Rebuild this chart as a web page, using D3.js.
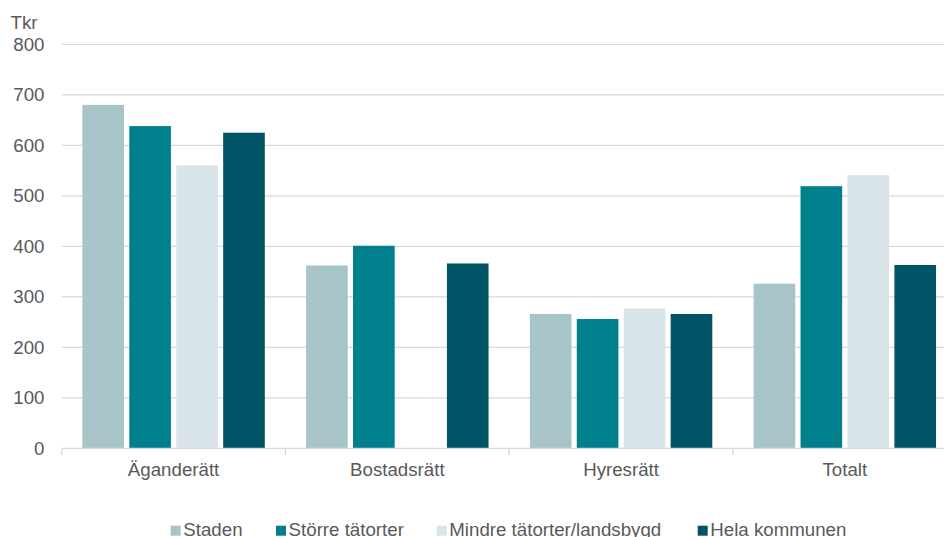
<!DOCTYPE html>
<html>
<head>
<meta charset="utf-8">
<script src="https://cdn.jsdelivr.net/npm/d3@7"></script>
<style>
  html, body { margin: 0; padding: 0; background: #fff; }
  svg { display: block; font-family: "Liberation Sans", Arial, sans-serif; }
</style>
</head>
<body>
<svg id="chart" width="944" height="537"></svg>
<script>
// Upplåtelseform per område (Tkr)
const categories = ["Äganderätt", "Bostadsrätt", "Hyresrätt", "Totalt"];
const seriesNames = ["Staden", "Större tätorter", "Mindre tätorter/landsbygd", "Hela kommunen"];
const staden = [680, 362, 266, 326];
const storreTatorter = [638, 401, 256, 519];
const mindreTatorter = [560, null, 277, 541];
const helaKommunen = [625, 366, 266, 363];
const yTicks = [0, 100, 200, 300, 400, 500, 600, 700, 800];
const colors = ["#A7C4C9", "#00808C", "#D9E4E9", "#015465"];

const seriesValues = [staden, storreTatorter, mindreTatorter, helaKommunen];

const svg = d3.select("#chart");
const textColor = "#595959";
const fontSize = "18.7px";

const x0 = d3.scaleBand().domain(categories).range([61.7, 956.7]).paddingInner(0).paddingOuter(0);
const x1 = d3.scaleBand().domain(seriesNames).range([0, x0.bandwidth()])
  .paddingInner(0.113).paddingOuter(0.44);
const y = d3.scaleLinear().domain([0, 800]).range([448.3, 44.3]);

// Gridlines
svg.append("g")
  .selectAll("line")
  .data(yTicks.filter(t => t > 0))
  .join("line")
  .attr("x1", 61.7).attr("x2", 956.7)
  .attr("y1", d => y(d)).attr("y2", d => y(d))
  .attr("stroke", "#d9d9d9").attr("stroke-width", 1.3);

// Y axis labels
const yAxis = d3.axisLeft(y).tickValues(yTicks).tickSize(0).tickPadding(0);
const gy = svg.append("g").attr("transform", "translate(44.5,0)").call(yAxis);
gy.select(".domain").remove();
gy.selectAll("text")
  .attr("fill", textColor)
  .style("font-size", fontSize)
  .style("font-family", "'Liberation Sans', Arial, sans-serif");

svg.append("text")
  .attr("x", 10.5).attr("y", 28.5)
  .attr("fill", textColor)
  .style("font-size", fontSize)
  .text("Tkr");

// Bars
const groups = svg.append("g")
  .selectAll("g")
  .data(categories)
  .join("g")
  .attr("transform", d => `translate(${x0(d)},0)`);

groups.selectAll("rect")
  .data((c, i) => seriesNames.map((s, j) => ({ s, j, v: seriesValues[j][i] })).filter(d => d.v != null))
  .join("rect")
  .attr("x", d => x1(d.s))
  .attr("width", x1.bandwidth())
  .attr("y", d => y(d.v))
  .attr("height", d => y(0) - y(d.v))
  .attr("fill", d => colors[d.j]);

// X axis
const gx = svg.append("g").attr("transform", "translate(0,448.3)");
gx.append("line")
  .attr("x1", 61.7).attr("x2", 956.7)
  .attr("stroke", "#d9d9d9").attr("stroke-width", 1.3);
gx.selectAll("line.tick")
  .data(categories.map(c => x0(c)).concat([x0(categories[categories.length - 1]) + x0.bandwidth()]))
  .join("line")
  .attr("class", "tick")
  .attr("x1", d => d).attr("x2", d => d)
  .attr("y1", 0).attr("y2", 7)
  .attr("stroke", "#d9d9d9").attr("stroke-width", 1.3);
gx.selectAll("text")
  .data(categories)
  .join("text")
  .attr("x", d => x0(d) + x0.bandwidth() / 2)
  .attr("y", 27.7)
  .attr("text-anchor", "middle")
  .attr("fill", textColor)
  .style("font-size", fontSize)
  .text(d => d);

// Legend
const legendX = [170.7, 276, 436.7, 697.7];
const legend = svg.append("g");
seriesNames.forEach((s, i) => {
  legend.append("rect")
    .attr("x", legendX[i]).attr("y", 525.7)
    .attr("width", 10).attr("height", 10)
    .attr("fill", colors[i]);
  legend.append("text")
    .attr("x", legendX[i] + 12.6).attr("y", 536)
    .attr("fill", textColor)
    .style("font-size", fontSize)
    .text(s);
});
</script>
</body>
</html>
